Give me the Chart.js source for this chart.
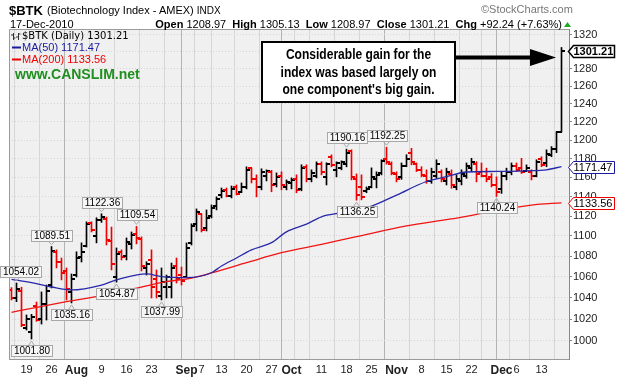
<!DOCTYPE html>
<html lang="en">
<head>
<meta charset="UTF-8">
<title>$BTK Daily</title>
<script src="https://cdn.jsdelivr.net/npm/chart.js@4.4.1/dist/chart.umd.min.js"></script>
<style>
  body { margin: 0; background: #fff; }
  #wrap { position: relative; width: 617px; height: 380px; overflow: hidden; font-family: 'Liberation Sans', Arial, sans-serif; color: #000; }
  #wrap canvas, #wrap svg { position: absolute; left: 0; top: 0; }
  .txt { position: absolute; white-space: nowrap; line-height: 1; }
  .note { position: absolute; left: 262px; top: 46px; width: 193px; text-align: center; font-weight: bold; font-size: 14px; line-height: 17.5px; }
  .note div { transform: scaleX(0.86); white-space: nowrap; }
</style>
</head>
<body>
<div id="wrap">
  <canvas id="chart" width="617" height="380"></canvas>
  <svg width="617" height="380">
    <rect x="262" y="42" width="193" height="60" fill="#fff" stroke="#000" stroke-width="2"/>
    <line x1="456" y1="57.5" x2="534" y2="57.5" stroke="#000" stroke-width="4"/>
    <polygon points="530,49 556,57.5 530,66" fill="#000"/>
    <polygon points="564,27 571,27 567.5,22" fill="#2a2"/>
    <!-- tiny price bar icon in legend -->
    <path d="M13.5 33v7M11 35h2.5M13.5 38h2M18.5 33v7M16 37h2.5M18.5 34h2" stroke="#333" stroke-width="1" fill="none"/>
    <line x1="12" y1="47.5" x2="21" y2="47.5" stroke="#1a1aa0" stroke-width="2"/>
    <line x1="12" y1="59.5" x2="21" y2="59.5" stroke="#e00" stroke-width="2"/>
  </svg>
  <div class="txt" style="left:9px;top:3.5px;font-size:13px;font-weight:bold">$BTK</div>
  <div class="txt" style="left:47px;top:5px;font-size:11px">(Biotechnology Index - AMEX) <span style="font-size:10px">INDX</span></div>
  <div class="txt" style="left:10px;top:18.5px;font-size:11px">17-Dec-2010</div>
  <div id="quote" class="txt" style="right:55px;top:18.5px;font-size:11px"></div>
  <div class="txt" style="left:481px;top:3.5px;font-size:11px;color:#777">©StockCharts.com</div>
  <div id="legPrice" class="txt" style="left:22px;top:31px;font-size:10px;font-family:'DejaVu Sans'"></div>
  <div id="legMa50" class="txt" style="left:22px;top:42px;font-size:11px;color:#1a1aa0"></div>
  <div id="legMa200" class="txt" style="left:22px;top:54px;font-size:11px;color:#e00"></div>
  <div class="txt" style="left:15px;top:66.5px;font-size:14px;font-weight:bold;color:#1f8f1f">www.CANSLIM.net</div>
  <div class="note">
    <div>Considerable gain for the</div>
    <div>index was based largely on</div>
    <div>one component's big gain.</div>
  </div>
</div>
<script>
// daily bars, 14-Jul-2010 .. 17-Dec-2010
var opens = [1047,1040,1046,1012,1008,1032,1020,1034,1052,1084,1074,1066,1045,1062,1079,1090,1113,1100,1116,1117,
  1095,1060,1084,1080,1092,1102,1097,1068,1076,1058,1042,1050,1050,1070,1062,1060,1093,1112,1122,1108,
  1120,1130,1142,1147,1141,1150,1145,1150,1170,1158,1150,1162,1166,1153,1162,1150,1154,1158,1148,1171,
  1158,1162,1174,1160,1182,1168,1170,1174,1188,1158,1150,1146,1150,1158,1165,1180,1174,1164,1160,1172,
  1186,1174,1168,1162,1156,1162,1166,1156,1164,1150,1156,1162,1170,1174,1166,1162,1160,1152,1148,1162,
  1166,1172,1170,1167,1166,1162,1180,1175,1184,1190,1208.97];
var highs = [1049.6,1054.02,1050.0,1023.9,1024.5,1036.0,1045.5,1052.1,1089.51,1086.2,1078.2,1068.5,1062.7,1084.3,1093.1,1114.2,1114.2,1118.3,1122.36,1119.0,
  1108.9,1088.1,1086.2,1098.0,1104.0,1109.54,1099.0,1074.6,1086.2,1066.6,1068.5,1061.7,1073.3,1078.2,1069.4,1093.1,1112.2,1127.3,1122.2,1126.3,
  1131.4,1139.7,1148.9,1148.9,1151.0,1152.1,1154.2,1171.2,1170.1,1162.7,1169.1,1168.0,1167.5,1164.8,1165.9,1157.4,1159.5,1162.7,1173.4,1173.4,
  1168.0,1176.5,1176.5,1175.5,1184.0,1176.5,1177.6,1190.16,1189.4,1163.7,1162.7,1150.0,1170.1,1165.9,1178.7,1192.25,1176.5,1165.9,1175.3,1184.1,
  1191.0,1175.3,1171.3,1168.0,1169.8,1178.7,1168.0,1169.8,1168.0,1162.7,1168.0,1175.3,1180.3,1176.7,1175.3,1169.8,1164.1,1160.6,1166.2,1169.8,
  1175.3,1175.3,1180.3,1173.3,1168.0,1178.7,1182.0,1189.4,1192.9,1209.0,1305.13];
var lows = [1037.9,1036.3,1013.1,1010.0,1001.80,1018.0,1015.5,1019.2,1049.3,1068.5,1057.0,1037.9,1035.16,1059.8,1074.3,1089.0,1104.0,1093.1,1113.6,1091.0,
  1066.6,1054.87,1076.3,1076.3,1087.1,1092.1,1065.6,1061.7,1039.8,1039.8,1037.99,1039.8,1039.8,1054.0,1052.1,1059.8,1091.0,1105.0,1104.0,1105.0,
  1118.1,1126.3,1138.6,1139.7,1138.6,1141.7,1144.0,1148.0,1154.2,1139.7,1147.0,1156.3,1145.0,1150.0,1147.0,1147.0,1148.0,1144.0,1146.0,1155.3,
  1155.3,1159.5,1162.7,1152.1,1171.2,1160.6,1168.0,1171.2,1157.4,1136.25,1136.6,1144.0,1149.0,1149.0,1162.7,1174.0,1162.7,1155.3,1158.0,1171.3,
  1173.3,1166.2,1160.6,1153.8,1153.8,1159.0,1155.3,1152.1,1148.6,1147.0,1152.1,1159.0,1166.2,1155.3,1160.6,1155.3,1150.0,1140.24,1143.3,1157.4,
  1162.7,1166.2,1164.1,1166.2,1157.4,1160.6,1171.3,1171.3,1182.0,1186.4,1208.97];
var closes = [1040,1048,1015,1020,1022,1019,1034,1046,1085,1074,1064,1048,1058,1078,1084,1112,1106,1116,1119,1096,
  1072,1082,1079,1094,1101,1098,1070,1072,1050,1045,1055,1060,1068,1058,1056,1088,1110,1124,1106,1118,
  1128,1137,1146,1141,1148,1143,1150,1168,1158,1150,1166,1167,1152,1160,1152,1155,1157,1147,1170,1158,
  1165,1174,1166,1174,1173,1175,1176.5,1186,1160,1142,1140,1148,1160,1163,1177,1176,1165,1158,1172,1180,
  1176,1168,1163,1156,1166,1174,1158,1166,1152,1158,1164,1172,1176,1164,1162,1158,1152,1145,1162,1166,
  1172,1168,1166,1170,1162,1176,1173,1185,1190,1208.97,1301.21];

// moving averages, read at selected bars (bar index -> value)
var ma50Idx = [0,4,8,12,18,21,27,30,35,40,42,45,48,52,55,59,62,66,72,77,83,87,91,97,103,107,110];
var ma50Val = [1057.6,1054.3,1050.2,1047.4,1052.1,1057.0,1062.7,1060.1,1059.1,1063.9,1070.4,1078.2,1086.2,1093.3,1104.1,1111.8,1119.3,1123.4,1130.2,1141.5,1155.7,1160.8,1165.7,1166.3,1167.0,1168.0,1171.47];
var ma200Idx = [0,4,11,18,24,31,36,40,47,54,62,69,79,88,96,104,110];
var ma200Val = [1026.4,1030.1,1036.3,1042.0,1048.0,1055.3,1058.8,1063.7,1073.6,1083.4,1091.7,1099.3,1110.0,1117.1,1124.5,1131.3,1133.56];

// axis labels
var tickIdx = [3,8,13,18,23,28,35,38,42,47,52,56,62,67,72,77,82,87,92,98,101,106];
var tickText = ['19','26','Aug','9','16','23','Sep','7','13','20','27','Oct','11','18','25','Nov','8','15','22','Dec','6','13'];
var weekIdx = [33,57,96];
var monthIdx = [13,35,56,77,98];
var yTicks = [1000,1020,1040,1060,1080,1100,1120,1140,1160,1180,1200,1220,1240,1260,1280,1300,1320];

// labelled highs and lows
var peakIdx = [1,8,18,25,67,75];
var troughIdx = [4,12,21,30,69,97];

var UP = '#000', DOWN = '#f00000';
var n = closes.length;
var colors = closes.map(function (c, i) { return c < (i ? closes[i - 1] : opens[0]) ? DOWN : UP; });

function tickImg(color, open) {
  var c = document.createElement('canvas');
  c.width = 7; c.height = 2;
  var g = c.getContext('2d');
  g.fillStyle = color;
  g.fillRect(open ? 0 : 3, 0, 4, 2);
  return c;
}
var imgs = { oU: tickImg(UP, true), oD: tickImg(DOWN, true), cU: tickImg(UP, false), cD: tickImg(DOWN, false) };

var last = n - 1;
var chg = closes[last] - closes[last - 1];
document.getElementById('quote').innerHTML =
  '<b>Open</b> ' + opens[last].toFixed(2) + '&nbsp; <b>High</b> ' + highs[last].toFixed(2) +
  '&nbsp; <b>Low</b> ' + lows[last].toFixed(2) + '&nbsp; <b>Close</b> ' + closes[last].toFixed(2) +
  '&nbsp; <b>Chg</b> +' + chg.toFixed(2) + ' (+' + (chg / closes[last - 1] * 100).toFixed(2) + '%)';
document.getElementById('legPrice').textContent = '$BTK (Daily) ' + closes[last].toFixed(2);
document.getElementById('legMa50').textContent = 'MA(50) ' + ma50Val[ma50Val.length - 1].toFixed(2);
document.getElementById('legMa200').textContent = 'MA(200) ' + ma200Val[ma200Val.length - 1].toFixed(2);

function flag(ctx, x, y, text, up) {
  ctx.font = '10px "Liberation Sans"';
  var w = Math.round(ctx.measureText(text).width) + 5, h = 11;
  var bx = Math.max(0, Math.round(x - w / 2));
  var by = up ? Math.round(y) - 6 - h : Math.round(y) + 6;
  ctx.fillStyle = '#f6f6f6';
  ctx.strokeStyle = '#a8a8a8';
  ctx.lineWidth = 1;
  ctx.fillRect(bx + 0.5, by + 0.5, w, h);
  ctx.strokeRect(bx + 0.5, by + 0.5, w, h);
  ctx.beginPath();
  var ey = up ? by + h + 0.5 : by + 0.5;
  ctx.moveTo(x - 3, ey);
  ctx.lineTo(x, up ? y - 2 : y + 2);
  ctx.lineTo(x + 3, ey);
  ctx.stroke();
  ctx.fillStyle = '#000';
  ctx.textAlign = 'center';
  ctx.textBaseline = 'middle';
  ctx.fillText(text, bx + 0.5 + w / 2, by + h / 2 + 1);
}

function tag(ctx, y, text, color, bold) {
  var x0 = 568.5, h = 12;
  y = Math.round(y) + 0.5;
  ctx.beginPath();
  ctx.moveTo(x0, y);
  ctx.lineTo(x0 + 5, y - h / 2);
  ctx.lineTo(614.5, y - h / 2);
  ctx.lineTo(614.5, y + h / 2);
  ctx.lineTo(x0 + 5, y + h / 2);
  ctx.closePath();
  ctx.fillStyle = '#fff';
  ctx.fill();
  ctx.strokeStyle = color;
  ctx.lineWidth = bold ? 1.5 : 1;
  ctx.stroke();
  ctx.font = (bold ? 'bold ' : '') + '11px "Liberation Sans"';
  ctx.fillStyle = '#000';
  ctx.textAlign = 'left';
  ctx.textBaseline = 'middle';
  ctx.fillText(text, x0 + 5, y + 0.5);
}

var decor = {
  id: 'decor',
  beforeDraw: function (chart) {
    var a = chart.chartArea, ctx = chart.ctx;
    ctx.save();
    ctx.fillStyle = '#f0f0f0';
    ctx.fillRect(a.left, a.top, a.right - a.left, a.bottom - a.top);
    ctx.restore();
  },
  afterDraw: function (chart) {
    var a = chart.chartArea, ctx = chart.ctx;
    var xs = chart.scales.x, ys = chart.scales.y;
    ctx.save();
    ctx.strokeStyle = '#9a9a9a';
    ctx.lineWidth = 1;
    ctx.beginPath();
    ctx.moveTo(a.right, a.top + 0.5);
    ctx.lineTo(a.left + 0.5, a.top + 0.5);
    ctx.lineTo(a.left + 0.5, a.bottom);
    ctx.stroke();
    peakIdx.forEach(function (i) {
      flag(ctx, xs.getPixelForValue(i), ys.getPixelForValue(highs[i]), highs[i].toFixed(2), true);
    });
    troughIdx.forEach(function (i) {
      flag(ctx, xs.getPixelForValue(i), ys.getPixelForValue(lows[i]), lows[i].toFixed(2), false);
    });
    var m50 = ma50Val[ma50Val.length - 1], m200 = ma200Val[ma200Val.length - 1];
    tag(ctx, ys.getPixelForValue(m200), m200.toFixed(2), '#e00', false);
    tag(ctx, ys.getPixelForValue(m50), m50.toFixed(2), '#1a1aa0', false);
    tag(ctx, ys.getPixelForValue(closes[last]), closes[last].toFixed(2), '#000', true);
    ctx.restore();
  }
};

var idx = closes.map(function (c, i) { return i; });

new Chart(document.getElementById('chart'), {
  type: 'bar',
  data: {
    datasets: [
      {
        type: 'line', order: 0,
        data: ma50Idx.map(function (i, k) { return { x: i, y: ma50Val[k] }; }),
        borderColor: 'rgb(40,40,170)', borderWidth: 1.3, pointRadius: 0,
        cubicInterpolationMode: 'monotone'
      },
      {
        type: 'line', order: 0,
        data: ma200Idx.map(function (i, k) { return { x: i, y: ma200Val[k] }; }),
        borderColor: 'rgb(240,20,20)', borderWidth: 1.3, pointRadius: 0,
        cubicInterpolationMode: 'monotone'
      },
      {
        order: 1,
        data: idx.map(function (i) { return { x: i, y: [lows[i], highs[i]] }; }),
        backgroundColor: colors, borderWidth: 0, barThickness: 1
      },
      {
        type: 'line', order: 1, showLine: false,
        data: idx.map(function (i) { return { x: i, y: opens[i] }; }),
        pointRadius: 1,
        pointStyle: idx.map(function (i) { return colors[i] === UP ? imgs.oU : imgs.oD; })
      },
      {
        type: 'line', order: 1, showLine: false,
        data: idx.map(function (i) { return { x: i, y: closes[i] }; }),
        pointRadius: 1,
        pointStyle: idx.map(function (i) { return colors[i] === UP ? imgs.cU : imgs.cD; })
      }
    ]
  },
  options: {
    responsive: false,
    animation: false,
    devicePixelRatio: 1,
    events: [],
    layout: { padding: { left: 9, top: 29, right: 0, bottom: 0 } },
    plugins: { legend: { display: false }, tooltip: { enabled: false } },
    scales: {
      x: {
        type: 'linear', min: -0.5, max: 111.5, offset: false,
        afterBuildTicks: function (s) {
          s.ticks = tickIdx.concat(weekIdx).sort(function (a, b) { return a - b; }).map(function (v) { return { value: v }; });
        },
        afterFit: function (s) { s.height = 21; },
        grid: {
          drawTicks: false,
          color: function (c) { return c.tick && monthIdx.indexOf(c.tick.value) >= 0 ? '#b4b4b4' : '#d6d6d6'; }
        },
        border: { color: '#9a9a9a' },
        ticks: {
          autoSkip: false, maxRotation: 0, padding: 4, color: '#222',
          font: function (c) {
            var m = c.tick && monthIdx.indexOf(c.tick.value) >= 0;
            return { family: 'Liberation Sans', size: m ? 12 : 11, weight: m ? 'bold' : 'normal' };
          },
          callback: function (v) { var k = tickIdx.indexOf(v); return k < 0 ? '' : tickText[k]; }
        }
      },
      y: {
        type: 'logarithmic', position: 'right', min: 983.8, max: 1327.2,
        afterBuildTicks: function (s) { s.ticks = yTicks.map(function (v) { return { value: v }; }); },
        afterFit: function (s) { s.width = 48; },
        grid: { color: '#d6d6d6', tickLength: 3, tickColor: '#888' },
        border: { color: '#888', dash: [1, 2] },
        ticks: {
          padding: 1, color: '#222',
          font: { family: 'Liberation Sans', size: 11 },
          callback: function (v) { return String(v); }
        }
      }
    }
  },
  plugins: [decor]
});
</script>
</body>
</html>
